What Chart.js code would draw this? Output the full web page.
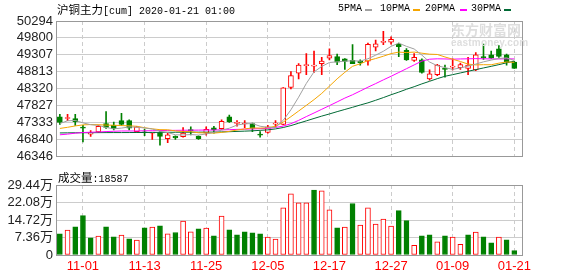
<!DOCTYPE html>
<html>
<head>
<meta charset="utf-8">
<script src="https://cdn.jsdelivr.net/npm/chart.js@4.4.0/dist/chart.umd.min.js"></script>
<style>
  body { margin: 0; background: #fff; width: 578px; height: 276px; overflow: hidden; position: relative; }
  canvas { position: absolute; left: 0; }
  #main { top: 0; }
  #vol { top: 170px; }
  .txt { position: absolute; white-space: nowrap; color: #000; line-height: 14px; }
  .cjk { font-family: 'Noto Sans CJK SC', sans-serif; font-size: 11.5px; }
  .mono { font-family: 'Liberation Mono', monospace; font-size: 10px; }
  .dash { position: absolute; height: 2px; width: 7px; top: 9px; }
  .wm { position: absolute; color: #dedede; white-space: nowrap; font-weight: bold; }
</style>
</head>
<body>
<canvas id="main" width="578" height="167"></canvas>
<canvas id="vol" width="578" height="106"></canvas>

<div class="txt" style="left:57px;top:2px"><span class="cjk">沪铜主力</span><span class="mono">[cum] 2020-01-21 01:00</span></div>

<div class="txt mono" style="left:338px;top:2px">5PMA</div>
<div class="dash" style="left:365px;background:#a0a0a0"></div>
<div class="txt mono" style="left:380px;top:2px">10PMA</div>
<div class="dash" style="left:413px;background:#f5a500"></div>
<div class="txt mono" style="left:425px;top:2px">20PMA</div>
<div class="dash" style="left:460px;background:#ff00ff"></div>
<div class="txt mono" style="left:471px;top:2px">30PMA</div>
<div class="dash" style="left:504px;background:#006a35"></div>

<div class="wm" style="left:451px;top:19px;font:bold 14px 'Noto Sans CJK SC',sans-serif;line-height:20px">东方财富网</div>
<div class="wm" style="left:451px;top:37px;font:bold 10px 'Liberation Sans',sans-serif;line-height:11px;letter-spacing:0.2px">eastmoney.com</div>

<div class="txt" style="left:58px;top:170px"><span class="cjk">成交量</span><span class="mono">:18587</span></div>

<script>
// trading days shown on the chart
const dates = [
  "10-29", "10-30", "10-31", "11-01", "11-04", "11-05", "11-06", "11-07", "11-08", "11-11",
  "11-12", "11-13", "11-14", "11-15", "11-18", "11-19", "11-20", "11-21", "11-22", "11-25",
  "11-26", "11-27", "11-28", "11-29", "12-02", "12-03", "12-04", "12-05", "12-06", "12-09",
  "12-10", "12-11", "12-12", "12-13", "12-16", "12-17", "12-18", "12-19", "12-20", "12-23",
  "12-24", "12-25", "12-26", "12-27", "12-30", "12-31", "01-02", "01-03", "01-06", "01-07",
  "01-08", "01-09", "01-10", "01-13", "01-14", "01-15", "01-16", "01-17", "01-20", "01-21"
];

const opens = [
  47497, 47447, 47442, 47184, 46991, 47054, 47295, 47248, 47387, 47387,
  47065, 47060, 47020, 47038, 46860, 46927, 46916, 47121, 46927, 47018,
  47176, 47148, 47497, 47306, 47287, 47295, 46982, 47038, 47281, 47276,
  48356, 48771, 48993, 48976, 49048, 49206, 49253, 49186, 49142, 49123,
  49123, 49530, 49668, 49677, 49621, 49436, 49142, 49159, 48605, 48727,
  48901, 48948, 48929, 48910, 48865, 49253, 49308, 49483, 49308, 49095
];
const highs = [
  47572, 47572, 47572, 47248, 47093, 47254, 47647, 47342, 47600, 47406,
  47220, 47129, 47038, 47065, 47018, 46944, 47184, 47204, 46944, 47204,
  47220, 47406, 47544, 47387, 47387, 47314, 47065, 47248, 47387, 48347,
  48818, 49048, 49344, 49419, 49234, 49483, 49325, 49197, 49602, 49159,
  49649, 49740, 49990, 49834, 49649, 49491, 49344, 49186, 48865, 49031,
  49004, 49186, 49067, 49234, 49372, 49621, 49419, 49574, 49325, 49114
];
const lows = [
  47276, 47387, 47248, 46761, 46927, 47032, 47157, 47110, 47248, 47110,
  47046, 46944, 46833, 46666, 46741, 46833, 46899, 46971, 46833, 46963,
  47018, 47129, 47331, 47220, 47176, 47065, 46899, 47018, 47204, 47259,
  48311, 48605, 48727, 48790, 48727, 49159, 49020, 48882, 49048, 49004,
  49004, 49419, 49602, 49621, 49253, 49142, 49114, 48771, 48569, 48699,
  48652, 48865, 48882, 48727, 48846, 49170, 49200, 49234, 49004, 48910
];
const closes = [
  47331, 47475, 47351, 47165, 47007, 47220, 47184, 47148, 47276, 47165,
  47204, 47030, 47035, 46927, 46971, 46880, 47018, 47093, 46860, 47129,
  47110, 47362, 47352, 47323, 47303, 47157, 46963, 47204, 47303, 48339,
  48699, 49004, 49012, 48993, 49123, 49281, 49095, 49114, 49048, 49076,
  49615, 49630, 49685, 49760, 49546, 49159, 49234, 48790, 48754, 49004,
  48882, 48965, 49020, 49004, 49308, 49214, 49205, 49261, 49095, 48910
];
const volumes = [
  89200, 104700, 118900, 165600, 72200, 79300, 118900, 76400, 83500, 67900,
  62300, 114600, 117500, 123100, 89200, 94800, 143000, 97700, 110400, 113200,
  80700, 164200, 106200, 84900, 97700, 93400, 89200, 75000, 66500, 198000,
  257600, 219400, 219400, 273100, 270300, 189700, 114600, 117500, 216600, 126000,
  198000, 130000, 151400, 121700, 186800, 144400, 41000, 80700, 84900, 55200,
  80700, 75000, 45300, 84900, 96200, 76400, 51000, 75000, 63700, 18587
];

const ma5 = [
  47300, 47380, 47390, 47320, 47266, 47244, 47185, 47145, 47167, 47199,
  47195, 47169, 47140, 47075, 47037, 46972, 46965, 46978, 46964, 46996,
  47042, 47110, 47163, 47256, 47291, 47300, 47221, 47190, 47186, 47393,
  47702, 48070, 48471, 48809, 48966, 49083, 49101, 49121, 49132, 49123,
  49191, 49296, 49410, 49553, 49647, 49554, 49477, 49298, 49097, 48988,
  48933, 48881, 48925, 48975, 49036, 49102, 49152, 49200, 49218, 49139
];
const ma10 = [
  47157, 47190, 47230, 47260, 47270, 47265, 47255, 47250, 47240, 47232,
  47220, 47177, 47145, 47121, 47118, 47084, 47067, 47062, 47030, 47026,
  47020, 47040, 47071, 47110, 47143, 47171, 47166, 47177, 47221, 47342,
  47501, 47665, 47831, 47998, 48180, 48392, 48605, 48796, 48971, 49045,
  49137, 49198, 49266, 49342, 49385, 49373, 49386, 49354, 49325, 49317,
  49244, 49178, 49111, 49036, 49012, 49018, 49016, 49063, 49097, 49087
];
const ma20 = [
  46971, 46991, 47018, 47038, 47046, 47054, 47065, 47074, 47082, 47082,
  47082, 47088, 47090, 47095, 47098, 47101, 47104, 47106, 47108, 47110,
  47110, 47115, 47120, 47129, 47135, 47143, 47150, 47157, 47184, 47226,
  47295, 47392, 47503, 47608, 47716, 47822, 47932, 48043, 48140, 48250,
  48361, 48466, 48575, 48680, 48790, 48901, 49012, 49123, 49178, 49190,
  49186, 49180, 49186, 49190, 49195, 49190, 49186, 49186, 49190, 49186
];
const ma30 = [
  47025, 47028, 47030, 47032, 47032, 47034, 47035, 47036, 47036, 47037,
  47038, 47038, 47040, 47042, 47044, 47045, 47046, 47047, 47048, 47049,
  47050, 47055, 47062, 47070, 47078, 47087, 47101, 47115, 47143, 47184,
  47240, 47309, 47378, 47448, 47517, 47580, 47647, 47711, 47774, 47841,
  47904, 47979, 48057, 48140, 48217, 48300, 48375, 48458, 48533, 48610,
  48680, 48727, 48777, 48827, 48874, 48923, 48970, 49020, 49073, 49123
];

const priceTicks = [46346, 46840, 47333, 47827, 48320, 48813, 49307, 49800, 50294];
const volTicks = [0, 73600, 147200, 220800, 294400];
const dateTickIdx = [3, 11, 19, 27, 35, 43, 51, 59];

const RED = "#ff0000";
const GREEN = "#008000";
const LABEL_FONT = { family: "'Liberation Sans', 'Noto Sans CJK SC', sans-serif", size: 13 };

function pts(arr) {
    return arr.map((v, i) => ({ x: i, y: v }));
}

// red hollow candle when close >= open, green filled otherwise
function candleUp(i) {
    return closes[i] >= opens[i];
}
// volume colour follows close versus previous close
function volUp(i) {
    return i === 0 ? closes[0] >= opens[0] : closes[i] > closes[i - 1];
}

// grey frame round the plot area
const frame = {
    id: "frame",
    afterDraw(chart) {
        const { ctx, chartArea } = chart;
        ctx.save();
        ctx.strokeStyle = "#999999";
        ctx.lineWidth = 1;
        ctx.strokeRect(Math.round(chartArea.left) + 0.5, Math.round(chartArea.top) + 0.5,
            Math.round(chartArea.right - chartArea.left), Math.round(chartArea.bottom - chartArea.top));
        ctx.restore();
    }
};

function maLine(data, color) {
    return {
        type: "line",
        data: pts(data),
        borderColor: color,
        borderWidth: 1,
        pointRadius: 0,
        tension: 0,
        fill: false,
        order: 0
    };
}

const xCommon = {
    type: "linear",
    min: -0.5,
    max: 60,
    offset: false,
    afterBuildTicks: (s) => { s.ticks = dateTickIdx.map((v) => ({ value: v })); },
    grid: { color: "#cccccc", drawTicks: false, offset: false },
    border: { display: false, dash: [4, 3] }
};

new Chart(document.getElementById("main"), {
    type: "bar",
    data: {
        datasets: [
            maLine(ma5, "#a0a0a0"),
            maLine(ma10, "#f5a500"),
            maLine(ma20, "#ff00ff"),
            maLine(ma30, "#006a35"),
            {
                // candle bodies
                data: opens.map((o, i) => ({ x: i, y: [o, closes[i]] })),
                backgroundColor: (c) => candleUp(c.dataIndex) ? "#ffffff" : GREEN,
                borderColor: (c) => candleUp(c.dataIndex) ? RED : GREEN,
                borderWidth: 1,
                borderSkipped: false,
                barThickness: 5,
                minBarLength: 1,
                grouped: false,
                order: 1
            },
            {
                // wicks
                data: lows.map((l, i) => ({ x: i, y: [l, highs[i]] })),
                backgroundColor: (c) => candleUp(c.dataIndex) ? RED : GREEN,
                borderWidth: 0,
                barThickness: 1,
                grouped: false,
                order: 2
            }
        ]
    },
    options: {
        responsive: false,
        animation: false,
        devicePixelRatio: 1,
        layout: { padding: { top: 21, right: 56, bottom: 3, left: 0 } },
        plugins: { legend: { display: false }, tooltip: { enabled: false } },
        scales: {
            x: Object.assign({}, xCommon, {
                afterFit: (s) => { s.height = 0; },
                ticks: { display: false }
            }),
            y: {
                min: 46346,
                max: 50294,
                afterBuildTicks: (s) => { s.ticks = priceTicks.map((v) => ({ value: v })); },
                afterFit: (s) => { s.width = 56; },
                ticks: { color: "#222222", font: LABEL_FONT, padding: 3, autoSkip: false, callback: (v) => String(v) },
                grid: { color: "#cccccc", drawTicks: false },
                border: { display: false }
            }
        }
    },
    plugins: [frame]
});

new Chart(document.getElementById("vol"), {
    type: "bar",
    data: {
        datasets: [{
            data: pts(volumes),
            backgroundColor: (c) => volUp(c.dataIndex) ? "#ffffff" : GREEN,
            borderColor: (c) => volUp(c.dataIndex) ? RED : GREEN,
            borderWidth: 1,
            borderSkipped: false,
            barThickness: 5,
            grouped: false
        }]
    },
    options: {
        responsive: false,
        animation: false,
        devicePixelRatio: 1,
        layout: { padding: { top: 15, right: 56, bottom: 0, left: 0 } },
        plugins: { legend: { display: false }, tooltip: { enabled: false } },
        scales: {
            x: Object.assign({}, xCommon, {
                afterFit: (s) => { s.height = 21; },
                ticks: {
                    color: RED,
                    font: { family: "'Liberation Sans Narrow', 'Liberation Sans', sans-serif", size: 13 },
                    padding: 4,
                    maxRotation: 0,
                    autoSkip: false,
                    callback: (v) => dates[v]
                }
            }),
            y: {
                min: 0,
                max: 294400,
                afterBuildTicks: (s) => { s.ticks = volTicks.map((v) => ({ value: v })); },
                afterFit: (s) => { s.width = 56; },
                ticks: {
                    color: "#222222",
                    font: LABEL_FONT,
                    padding: 3,
                    autoSkip: false,
                    callback: (v) => v === 0 ? "0" : (v / 10000).toFixed(2) + "万"
                },
                grid: { color: "#cccccc", drawTicks: false },
                border: { display: false }
            }
        }
    },
    plugins: [frame]
});
</script>
</body>
</html>
